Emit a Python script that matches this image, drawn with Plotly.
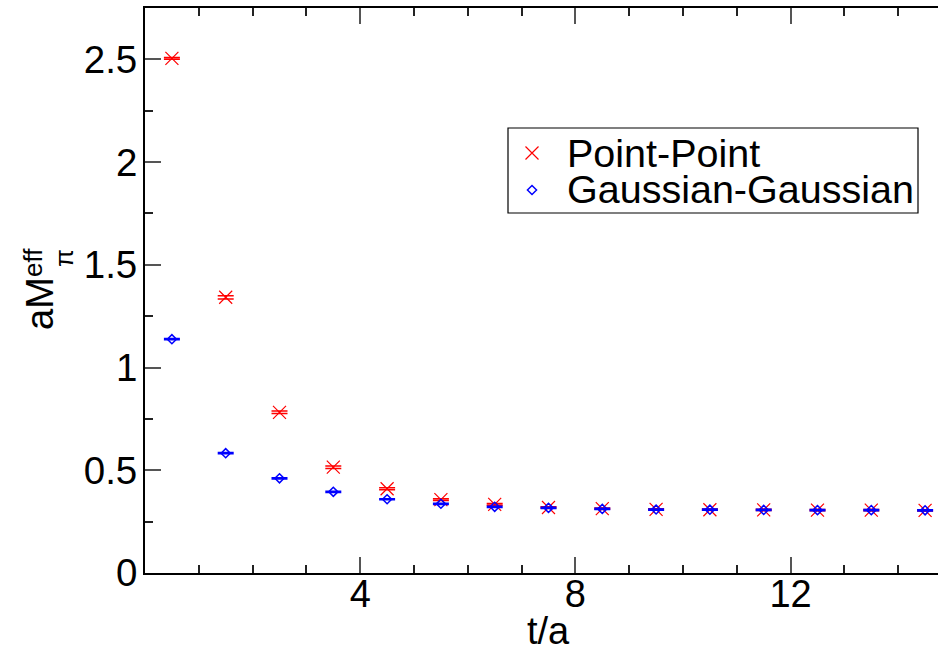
import plotly.graph_objects as go

# ---- data ----
t_vals = [0.5, 1.5, 2.5, 3.5, 4.5, 5.5, 6.5, 7.5, 8.5, 9.5, 10.5, 11.5, 12.5, 13.5, 14.5]
pp_vals = [2.505, 1.342, 0.782, 0.515, 0.410, 0.357, 0.334, 0.319, 0.313, 0.310, 0.308, 0.307, 0.306, 0.306, 0.305]
pp_err = [0.004, 0.008, 0.006, 0.006, 0.005, 0.004, 0.004, 0.003, 0.003, 0.003, 0.003, 0.003, 0.003, 0.003, 0.003]
gg_vals = [1.138, 0.583, 0.461, 0.395, 0.359, 0.337, 0.322, 0.317, 0.312, 0.309, 0.308, 0.307, 0.306, 0.306, 0.305]
gg_err = [0.003, 0.003, 0.003, 0.003, 0.003, 0.003, 0.003, 0.003, 0.003, 0.003, 0.003, 0.003, 0.003, 0.003, 0.003]
x_tickvals = [0, 4, 8, 12]
x_ticktext = ["", "4", "8", "12"]
series_names = ["Point-Point", "Gaussian-Gaussian"]

FONT = "Liberation Sans, Arial, Helvetica, sans-serif"
W, H = 938, 648
L, T, R, B = 145, 8, 938, 573


def px(x):
    return (x - L) / (R - L)


def py(y):
    return (B - y) / (B - T)


fig = go.Figure()
fig.add_trace(go.Scatter(
    x=t_vals, y=pp_vals, mode="markers", name=series_names[0], showlegend=False,
    marker=dict(symbol="x-thin-open", size=13, color="#ff0000", line=dict(color="#ff0000", width=1.2)),
    error_y=dict(type="data", array=pp_err, color="#ff0000", thickness=1.5, width=8),
))
fig.add_trace(go.Scatter(
    x=t_vals, y=gg_vals, mode="markers", name=series_names[1], showlegend=False,
    marker=dict(symbol="diamond-open", size=7, color="#0000ff", line=dict(color="#0000ff", width=1.5)),
    error_y=dict(type="data", array=gg_err, color="#0000ff", thickness=1.5, width=8),
))

# legend swatches on an overlay paper-like axis
fig.add_trace(go.Scatter(
    x=[px(532)], y=[py(153)], mode="markers", showlegend=False, xaxis="x2", yaxis="y2",
    marker=dict(symbol="x-thin-open", size=13, color="#ff0000", line=dict(color="#ff0000", width=1.2)),
    hoverinfo="skip",
))
fig.add_trace(go.Scatter(
    x=[px(532)], y=[py(190)], mode="markers", showlegend=False, xaxis="x2", yaxis="y2",
    marker=dict(symbol="diamond-open", size=7, color="#0000ff", line=dict(color="#0000ff", width=1.5)),
    hoverinfo="skip",
))

fig.update_layout(
    width=W, height=H,
    margin=dict(l=L, r=W - R, t=T, b=H - B, pad=0),
    paper_bgcolor="white", plot_bgcolor="white",
    font=dict(family=FONT, size=38, color="black"),
    xaxis=dict(
        range=[0, 14.74], tickmode="array", tickvals=x_tickvals, ticktext=x_ticktext,
        ticks="inside", ticklen=16, tickwidth=2, tickcolor="#555",
        minor=dict(tickmode="linear", tick0=0, dtick=1, ticks="inside", ticklen=8, tickwidth=1.5, tickcolor="#222"),
        showline=True, linecolor="black", linewidth=2, mirror="ticks",
        showgrid=False, zeroline=False, tickfont=dict(size=38), ticklabelstandoff=-14,
    ),
    yaxis=dict(
        range=[0, 2.75], tickmode="linear", tick0=0, dtick=0.5,
        ticks="inside", ticklen=16, tickwidth=2, tickcolor="#555",
        minor=dict(tickmode="linear", tick0=0, dtick=0.25, ticks="inside", ticklen=8, tickwidth=1.5, tickcolor="#222"),
        showline=True, linecolor="black", linewidth=2, mirror=False,
        showgrid=False, zeroline=False, tickfont=dict(size=38.5), ticklabelstandoff=-2,
    ),
    xaxis2=dict(range=[0, 1], overlaying="x", visible=False, fixedrange=True),
    yaxis2=dict(range=[0, 1], overlaying="y", visible=False, fixedrange=True),
    shapes=[dict(type="rect", xref="paper", yref="paper",
                 x0=px(508), x1=px(918), y0=py(213), y1=py(128),
                 line=dict(color="black", width=1.2), fillcolor="white", layer="below")],
    annotations=[
        dict(text=series_names[0], xref="paper", yref="paper", x=px(565), y=py(153),
             xanchor="left", yanchor="middle", showarrow=False, font=dict(size=39.5)),
        dict(text=series_names[1], xref="paper", yref="paper", x=px(565), y=py(189),
             xanchor="left", yanchor="middle", showarrow=False, font=dict(size=39.5)),
        dict(text="t/a", xref="paper", yref="paper", x=px(548), y=py(631),
             xanchor="center", yanchor="middle", showarrow=False, font=dict(size=38)),
        dict(text="aM", xref="paper", yref="paper", x=px(40), y=py(304),
             xanchor="center", yanchor="middle", textangle=-90, showarrow=False, font=dict(size=38)),
        dict(text="eff", xref="paper", yref="paper", x=px(33), y=py(262),
             xanchor="center", yanchor="middle", textangle=-90, showarrow=False, font=dict(size=26)),
        dict(text="π", xref="paper", yref="paper", x=px(64), y=py(258),
             xanchor="center", yanchor="middle", textangle=-90, showarrow=False, font=dict(size=26)),
    ],
)

fig.write_html("out.html")
